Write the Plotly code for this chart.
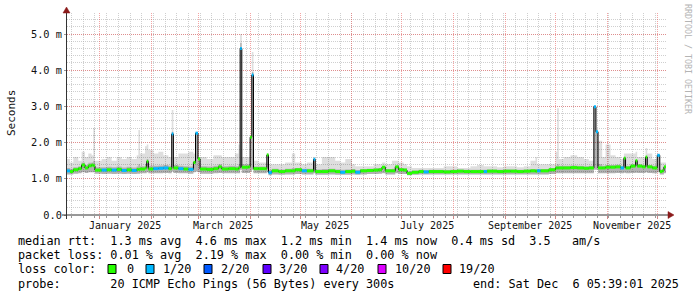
import plotly.graph_objects as go

# ---------------- data ----------------
dates = [
    "2024-12-12 05:39", "2024-12-14", "2024-12-16", "2024-12-19", "2024-12-21",
    "2024-12-23", "2024-12-25", "2024-12-27", "2024-12-28", "2024-12-29",
    "2025-01-02", "2025-01-05", "2025-01-08", "2025-01-11", "2025-01-14",
    "2025-01-17", "2025-01-20", "2025-01-23", "2025-01-24", "2025-01-25",
    "2025-01-28", "2025-01-29", "2025-01-30", "2025-02-02", "2025-02-05",
    "2025-02-08", "2025-02-11", "2025-02-13", "2025-02-14", "2025-02-17",
    "2025-02-20", "2025-02-23", "2025-02-26", "2025-02-27 06:00", "2025-02-28 18:00",
    "2025-03-02", "2025-03-06", "2025-03-10", "2025-03-13", "2025-03-15",
    "2025-03-19", "2025-03-23", "2025-03-25", "2025-03-26", "2025-03-27",
    "2025-03-31", "2025-04-01", "2025-04-02", "2025-04-03", "2025-04-06",
    "2025-04-10", "2025-04-11", "2025-04-12", "2025-04-14", "2025-04-18",
    "2025-04-22", "2025-04-26", "2025-04-28", "2025-05-02", "2025-05-05",
    "2025-05-09", "2025-05-10", "2025-05-14", "2025-05-18", "2025-05-22",
    "2025-05-25", "2025-05-28", "2025-06-01", "2025-06-03", "2025-06-06",
    "2025-06-10", "2025-06-14", "2025-06-17", "2025-06-19", "2025-06-21",
    "2025-06-25", "2025-06-27", "2025-06-29", "2025-07-02", "2025-07-04",
    "2025-07-07", "2025-07-11", "2025-07-14", "2025-07-17", "2025-07-22",
    "2025-07-26", "2025-07-30", "2025-08-03", "2025-08-07", "2025-08-11",
    "2025-08-15", "2025-08-19", "2025-08-21", "2025-08-27", "2025-08-31",
    "2025-09-04", "2025-09-08", "2025-09-12", "2025-09-16", "2025-09-19",
    "2025-09-20", "2025-09-22", "2025-09-27", "2025-10-01", "2025-10-02",
    "2025-10-03", "2025-10-06", "2025-10-10", "2025-10-14", "2025-10-18",
    "2025-10-21", "2025-10-24", "2025-10-25 06:00", "2025-10-26 12:00", "2025-10-29",
    "2025-10-31", "2025-11-03", "2025-11-06", "2025-11-09", "2025-11-11",
    "2025-11-12", "2025-11-15", "2025-11-18", "2025-11-19", "2025-11-22",
    "2025-11-24", "2025-11-25", "2025-11-28", "2025-12-01", "2025-12-02 12:00",
    "2025-12-04", "2025-12-05", "2025-12-06 05:39:01",
]

median_ms = [
    1.22, 1.20, 1.25, 1.28, 1.38, 1.30, 1.36, 1.38, 1.36, 1.24,
    1.24, 1.25, 1.24, 1.26, 1.23, 1.25, 1.23, 1.26, 1.26, 1.27,
    1.30, 1.48, 1.27, 1.28, 1.29, 1.30, 1.28, 2.24, 1.30, 1.28,
    1.27, 1.26, 1.45, 2.26, 1.55, 1.27, 1.26, 1.28, 1.33, 1.27,
    1.28, 1.27, 1.30, 4.60, 1.32, 1.33, 2.15, 3.87, 1.28, 1.28,
    1.28, 1.66, 1.17, 1.22, 1.20, 1.22, 1.22, 1.25, 1.22, 1.22,
    1.54, 1.20, 1.20, 1.22, 1.20, 1.18, 1.20, 1.21, 1.18, 1.22,
    1.23, 1.24, 1.25, 1.32, 1.22, 1.22, 1.33, 1.25, 1.24, 1.15,
    1.18, 1.20, 1.19, 1.20, 1.20, 1.19, 1.20, 1.21, 1.20, 1.20,
    1.20, 1.20, 1.21, 1.20, 1.21, 1.21, 1.20, 1.21, 1.22, 1.21,
    1.22, 1.22, 1.25, 1.30, 1.30, 1.30, 1.30, 1.31, 1.30, 1.29,
    1.30, 2.99, 2.30, 1.30, 1.30, 1.32, 1.32, 1.33, 1.30, 1.57,
    1.30, 1.35, 1.50, 1.35, 1.33, 1.60, 1.33, 1.30, 1.65, 1.20,
    1.22, 1.33, 1.33,
]

# lost pings out of 20 for each interval
loss = [
    1, 0, 0, 0, 0, 0, 0, 0, 0, 0,
    1, 0, 1, 0, 1, 0, 1, 0, 0, 0,
    0, 0, 0, 1, 1, 1, 0, 1, 0, 1,
    0, 1, 0, 1, 0, 0, 0, 0, 0, 0,
    0, 0, 0, 1, 0, 0, 0, 1, 0, 0,
    0, 0, 1, 0, 0, 0, 0, 0, 1, 0,
    1, 0, 0, 0, 0, 1, 0, 0, 1, 0,
    0, 0, 0, 0, 0, 0, 0, 0, 0, 0,
    0, 0, 1, 0, 0, 0, 0, 0, 0, 0,
    0, 1, 0, 0, 0, 0, 0, 0, 0, 0,
    1, 0, 0, 0, 0, 0, 0, 0, 0, 0,
    0, 1, 1, 0, 0, 0, 0, 0, 1, 0,
    0, 0, 0, 0, 0, 0, 0, 0, 1, 0,
    0, 0, 0,
]

smoke_max = [
    1.55, 1.45, 1.60, 1.50, 1.75, 1.60, 1.70, 1.65, 2.40, 1.50,
    1.55, 1.60, 1.50, 1.60, 1.55, 1.60, 1.55, 1.65, 2.35, 1.70,
    1.90, 1.95, 1.80, 1.70, 1.75, 1.65, 1.60, 2.90, 1.60, 1.70,
    1.70, 1.75, 1.70, 2.30, 1.60, 1.60, 1.55, 1.65, 1.65, 1.60,
    1.60, 1.70, 1.95, 5.00, 1.60, 1.60, 2.20, 4.50, 1.50, 1.45,
    1.45, 1.70, 1.40, 1.40, 1.40, 1.45, 1.70, 1.45, 1.40, 1.45,
    1.60, 1.40, 1.60, 1.60, 1.50, 1.45, 1.55, 1.40, 1.35, 1.35,
    1.35, 1.40, 1.40, 1.45, 1.40, 1.50, 1.50, 1.45, 1.40, 1.35,
    1.30, 1.30, 1.30, 1.30, 1.30, 1.35, 1.35, 1.30, 1.30, 1.35,
    1.38, 1.35, 1.35, 1.32, 1.35, 1.35, 1.32, 1.35, 1.50, 1.60,
    1.40, 1.40, 1.40, 1.75, 2.95, 1.55, 1.60, 1.65, 1.60, 1.55,
    1.50, 3.00, 2.30, 2.05, 1.60, 1.95, 1.65, 1.60, 1.55, 1.70,
    1.70, 1.70, 1.75, 1.60, 1.60, 1.85, 1.70, 1.55, 1.65, 1.45,
    1.45, 1.45, 1.45,
]

smoke_q3 = [
    1.30, 1.28, 1.32, 1.35, 1.45, 1.38, 1.44, 1.45, 1.50, 1.32,
    1.32, 1.33, 1.32, 1.34, 1.31, 1.33, 1.31, 1.34, 1.40, 1.35,
    1.40, 1.55, 1.36, 1.36, 1.37, 1.38, 1.36, 2.30, 1.38, 1.36,
    1.35, 1.34, 1.50, 2.26, 1.55, 1.35, 1.34, 1.36, 1.40, 1.35,
    1.36, 1.35, 1.40, 4.75, 1.40, 1.40, 2.15, 3.95, 1.34, 1.34,
    1.34, 1.66, 1.25, 1.28, 1.26, 1.28, 1.30, 1.30, 1.28, 1.28,
    1.54, 1.26, 1.27, 1.28, 1.26, 1.25, 1.26, 1.27, 1.24, 1.27,
    1.28, 1.29, 1.30, 1.35, 1.27, 1.28, 1.36, 1.30, 1.29, 1.20,
    1.23, 1.25, 1.24, 1.25, 1.25, 1.24, 1.25, 1.26, 1.25, 1.25,
    1.25, 1.25, 1.26, 1.25, 1.26, 1.26, 1.25, 1.26, 1.27, 1.27,
    1.27, 1.27, 1.30, 1.36, 1.40, 1.36, 1.36, 1.37, 1.36, 1.35,
    1.36, 2.99, 2.30, 1.40, 1.36, 1.38, 1.38, 1.39, 1.36, 1.57,
    1.36, 1.40, 1.52, 1.40, 1.38, 1.62, 1.38, 1.36, 1.65, 1.26,
    1.28, 1.36, 1.36,
]

smoke_min = [
    1.12, 1.12, 1.14, 1.15, 1.18, 1.16, 1.18, 1.18, 1.18, 1.14,
    1.13, 1.14, 1.13, 1.14, 1.13, 1.14, 1.13, 1.14, 1.14, 1.15,
    1.15, 1.18, 1.15, 1.15, 1.15, 1.16, 1.15, 1.20, 1.16, 1.15,
    1.15, 1.14, 1.18, 1.20, 1.18, 1.14, 1.14, 1.15, 1.16, 1.15,
    1.15, 1.15, 1.15, 1.25, 1.16, 1.16, 1.20, 1.25, 1.15, 1.15,
    1.15, 1.18, 1.10, 1.12, 1.11, 1.12, 1.12, 1.13, 1.12, 1.12,
    1.15, 1.11, 1.11, 1.12, 1.11, 1.11, 1.11, 1.12, 1.11, 1.12,
    1.13, 1.13, 1.14, 1.15, 1.12, 1.12, 1.15, 1.13, 1.13, 1.10,
    1.11, 1.12, 1.12, 1.12, 1.12, 1.12, 1.12, 1.12, 1.12, 1.12,
    1.12, 1.12, 1.12, 1.12, 1.12, 1.12, 1.12, 1.12, 1.12, 1.12,
    1.12, 1.12, 1.13, 1.15, 1.15, 1.15, 1.15, 1.15, 1.15, 1.15,
    1.15, 1.25, 1.25, 1.15, 1.15, 1.15, 1.15, 1.16, 1.15, 1.17,
    1.15, 1.16, 1.17, 1.16, 1.16, 1.18, 1.16, 1.15, 1.18, 1.12,
    1.12, 1.15, 1.15,
]

month_starts = [
    "2025-01-01", "2025-02-01", "2025-03-01", "2025-04-01", "2025-05-01", "2025-06-01",
    "2025-07-01", "2025-08-01", "2025-09-01", "2025-10-01", "2025-11-01", "2025-12-01",
]
x_label_dates = ["2025-01-16", "2025-03-16", "2025-05-16", "2025-07-16", "2025-09-16", "2025-11-16"]
x_labels = ["January 2025", "March 2025", "May 2025", "July 2025", "September 2025", "November 2025"]

y_tick_vals = [0, 1, 2, 3, 4, 5]
y_tick_text = ["0.0", "1.0 m", "2.0 m", "3.0 m", "4.0 m", "5.0 m"]

loss_levels = [0, 1, 2, 3, 4, 10, 19]
loss_labels = ["0", "1/20", "2/20", "3/20", "4/20", "10/20", "19/20"]
loss_colors = ["#26ff00", "#00b8ff", "#0059ff", "#5e00ff", "#7e00ff", "#dd00ff", "#ff0000"]

legend_rtt = "median rtt:  1.3 ms avg  4.6 ms max  1.2 ms min  1.4 ms now  0.4 ms sd  3.5   am/s"
legend_loss = "packet loss: 0.01 % avg  2.19 % max  0.00 % min  0.00 % now"
legend_color = "loss color:"
legend_probe = "probe:       20 ICMP Echo Pings (56 Bytes) every 300s"
legend_end = "end: Sat Dec  6 05:39:01 2025"

x_start = "2024-12-12 05:39:01"
x_end = "2025-12-06 05:39:01"
y_max = 5.58

# ---------------- geometry ----------------
W, H = 697, 297
L, R, T, B = 67, 666, 13, 215
PW, PH = R - L, B - T
MONO = "DejaVu Sans Mono"


def px(x):
    return (x - L) / PW


def py(y):
    return (B - y) / PH


def nb(s):
    return s.replace(" ", "\u00a0")


fig = go.Figure()

# smoke: outer band (semi-transparent so the dotted grid shows through, as in rrdtool)
fig.add_trace(go.Scatter(x=dates, y=smoke_min, mode="lines", line=dict(width=0, shape="hv"),
                         showlegend=False, hoverinfo="skip"))
fig.add_trace(go.Scatter(x=dates, y=smoke_max, mode="lines", line=dict(width=0, shape="hv"),
                         fill="tonexty", fillcolor="rgba(0,0,0,0.13)", showlegend=False, hoverinfo="skip"))
# smoke: inner band
fig.add_trace(go.Scatter(x=dates, y=smoke_min, mode="lines", line=dict(width=0, shape="hv"),
                         showlegend=False, hoverinfo="skip"))
fig.add_trace(go.Scatter(x=dates, y=smoke_q3, mode="lines", line=dict(width=0, shape="hv"),
                         fill="tonexty", fillcolor="rgba(0,0,0,0.2)", showlegend=False, hoverinfo="skip"))
# median thin black step line
fig.add_trace(go.Scatter(x=dates, y=median_ms, mode="lines",
                         line=dict(width=1, shape="hv", color="#000000"),
                         showlegend=False, hoverinfo="skip"))
# loss coloured median segments
for lvl, col in zip(loss_levels, loss_colors):
    xs, ys = [], []
    for i in range(len(dates) - 1):
        if loss[i] == lvl:
            xs += [dates[i], dates[i + 1], None]
            ys += [median_ms[i], median_ms[i], None]
    if xs:
        fig.add_trace(go.Scatter(x=xs, y=ys, mode="lines", line=dict(width=3, color=col),
                                 showlegend=False, hoverinfo="skip"))

annotations = []
# x labels (centred mid-month, as rrdtool does)
for d, t in zip(x_label_dates, x_labels):
    annotations.append(dict(x=d, xref="x", y=py(225), yref="paper", text=t, showarrow=False,
                            xanchor="center", yanchor="middle",
                            font=dict(family=MONO, size=10, color="#111111")))
# y title
annotations.append(dict(x=px(11), y=py(113), xref="paper", yref="paper", text="Seconds",
                        showarrow=False, textangle=-90, xanchor="center", yanchor="middle",
                        font=dict(family=MONO, size=11, color="#111111")))
# watermark
annotations.append(dict(x=px(688), y=py(59), xref="paper", yref="paper",
                        text=nb("RRDTOOL / TOBI OETIKER"), showarrow=False, textangle=90,
                        xanchor="center", yanchor="middle",
                        font=dict(family=MONO, size=8.3, color="#b4b4b4")))
# legend rows
LF = dict(family=MONO, size=11.8, color="#000000")
for txt, yy in [(legend_rtt, 241), (legend_loss, 255), (legend_color, 269), (legend_probe, 284)]:
    annotations.append(dict(x=px(16), y=py(yy), xref="paper", yref="paper", text=nb(txt),
                            showarrow=False, xanchor="left", yanchor="middle", font=LF))
annotations.append(dict(x=px(681), y=py(284), xref="paper", yref="paper", text=nb(legend_end),
                        showarrow=False, xanchor="right", yanchor="middle", font=LF))

box_x = [108, 146, 204, 263, 320, 378, 443]
lab_x = [124.5, 161, 219, 277, 334, 392.5, 457.5]
shapes = []
for bx, lx, lab, col in zip(box_x, lab_x, loss_labels, loss_colors):
    shapes.append(dict(type="rect", xref="paper", yref="paper",
                       x0=px(bx), x1=px(bx + 8), y0=py(273.5), y1=py(264.5),
                       fillcolor=col, line=dict(color="#000000", width=1)))
    annotations.append(dict(x=px(lx), y=py(269), xref="paper", yref="paper", text=lab,
                            showarrow=False, xanchor="left", yanchor="middle", font=LF))

# axes with arrows
AX = "#333333"
AR = "#8b1a1a"
shapes.append(dict(type="line", xref="paper", yref="paper", x0=px(62), x1=px(668),
                   y0=py(215), y1=py(215), line=dict(color=AX, width=1), layer="above"))
shapes.append(dict(type="line", xref="paper", yref="paper", x0=px(66.5), x1=px(66.5),
                   y0=py(219), y1=py(12), line=dict(color=AX, width=1), layer="above"))
shapes.append(dict(type="path", xref="paper", yref="paper",
                   path=f"M {px(668)},{py(211.5)} L {px(674)},{py(215)} L {px(668)},{py(218.5)} Z",
                   fillcolor=AR, line=dict(color=AR, width=0.5), layer="above"))
shapes.append(dict(type="path", xref="paper", yref="paper",
                   path=f"M {px(63)},{py(13)} L {px(66.5)},{py(7)} L {px(70)},{py(13)} Z",
                   fillcolor=AR, line=dict(color=AR, width=0.5), layer="above"))

MAJ = "rgba(235,90,90,0.55)"
MIN = "rgba(175,175,175,0.6)"

fig.update_layout(
    width=W, height=H,
    margin=dict(l=L, r=W - R, t=T, b=H - B, pad=0),
    paper_bgcolor="#ffffff", plot_bgcolor="#ffffff",
    showlegend=False, hovermode=False,
    annotations=annotations, shapes=shapes,
    xaxis=dict(
        type="date", range=[x_start, x_end], fixedrange=True,
        tickmode="array", tickvals=month_starts, ticktext=[""] * len(month_starts),
        showgrid=True, gridcolor=MAJ, griddash="1px,1px", gridwidth=1,
        ticks="outside", ticklen=3, tickcolor="#cc8888", showline=False, zeroline=False,
        minor=dict(dtick=7 * 86400000, tick0="2025-01-05", showgrid=True, gridcolor=MIN,
                   griddash="1px,1px", gridwidth=1, ticks="outside", ticklen=2, tickcolor="#999999"),
    ),
    yaxis=dict(
        range=[0, y_max], fixedrange=True,
        tickmode="array", tickvals=y_tick_vals, ticktext=y_tick_text,
        showgrid=True, gridcolor=MAJ, griddash="1px,1px", gridwidth=1,
        ticks="outside", ticklen=2, tickcolor="#999999", showline=False, zeroline=False,
        tickfont=dict(family=MONO, size=10.3, color="#111111"),
        minor=dict(dtick=0.2, showgrid=True, gridcolor=MIN, griddash="1px,1px", gridwidth=1),
    ),
)

fig.write_html("out.html")
